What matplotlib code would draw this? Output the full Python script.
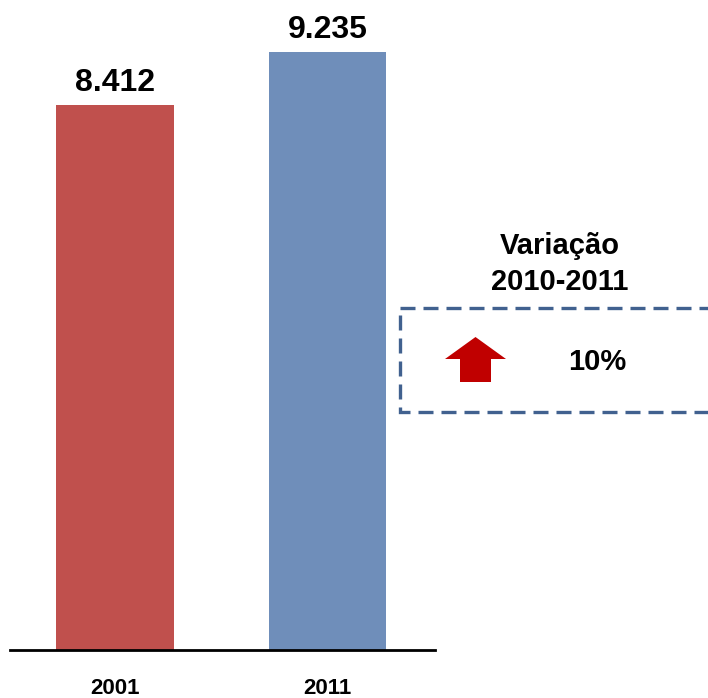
import matplotlib.pyplot as plt
from matplotlib.patches import Rectangle, Polygon
from matplotlib.transforms import Affine2D

years = ['2001', '2011']
values = [8412, 9235]
bar_colors = ['#C0504D', '#6F8EBA']
variation_title = 'Variação\n2010-2011'
variation_text = '10%'

W, H = 708, 698
plt.rcParams['font.family'] = ['Liberation Sans', 'DejaVu Sans']


def fmt(v):
    return f'{v:,}'.replace(',', '.')


def main():
    fig = plt.figure(figsize=(W / 100, H / 100), dpi=100)
    # axes placed in pixels: left 10, right 435, baseline at y=650 from top
    ax = fig.add_axes([10 / W, 48 / H, 425 / W, 650 / H])
    x = list(range(len(years)))
    ax.bar(x, values, width=0.555, color=bar_colors)
    ax.set_xlim(-0.494, 1.506)
    ax.set_ylim(0, values[0] * 650 / 545)
    for xi, v in zip(x, values):
        ax.annotate(fmt(v), (xi, v), xytext=(0, 5), textcoords='offset points',
                    ha='center', va='bottom', fontsize=23, fontweight='bold')
    ax.set_xticks(x)
    ax.set_xticklabels(years, fontsize=16, fontweight='bold')
    ax.tick_params(axis='x', length=0, pad=20)
    ax.set_yticks([])
    for s in ['top', 'right', 'left']:
        ax.spines[s].set_visible(False)
    ax.spines['bottom'].set_linewidth(2)

    # pixel transform (origin top-left)
    px = Affine2D().scale(1 / W, -1 / H).translate(0, 1) + fig.transFigure

    fig.text(560, 264, variation_title, transform=px, ha='center', va='center',
             fontsize=21, fontweight='bold', linespacing=1.4)
    box = Rectangle((400, 308), 330, 104, transform=px, fill=False,
                    edgecolor='#41618F', linewidth=2.4, linestyle=(0, (4.5, 2.4)))
    fig.add_artist(box)
    arrow = Polygon([(460, 382), (491, 382), (491, 359), (506, 359), (475.5, 337),
                     (445, 359), (460, 359)], closed=True, transform=px,
                    facecolor='#C00000', edgecolor='none')
    fig.add_artist(arrow)
    fig.text(597, 362, variation_text, transform=px, ha='center', va='center',
             fontsize=21, fontweight='bold')

    fig.savefig('out.png', dpi=100)


if __name__ == '__main__':
    main()
